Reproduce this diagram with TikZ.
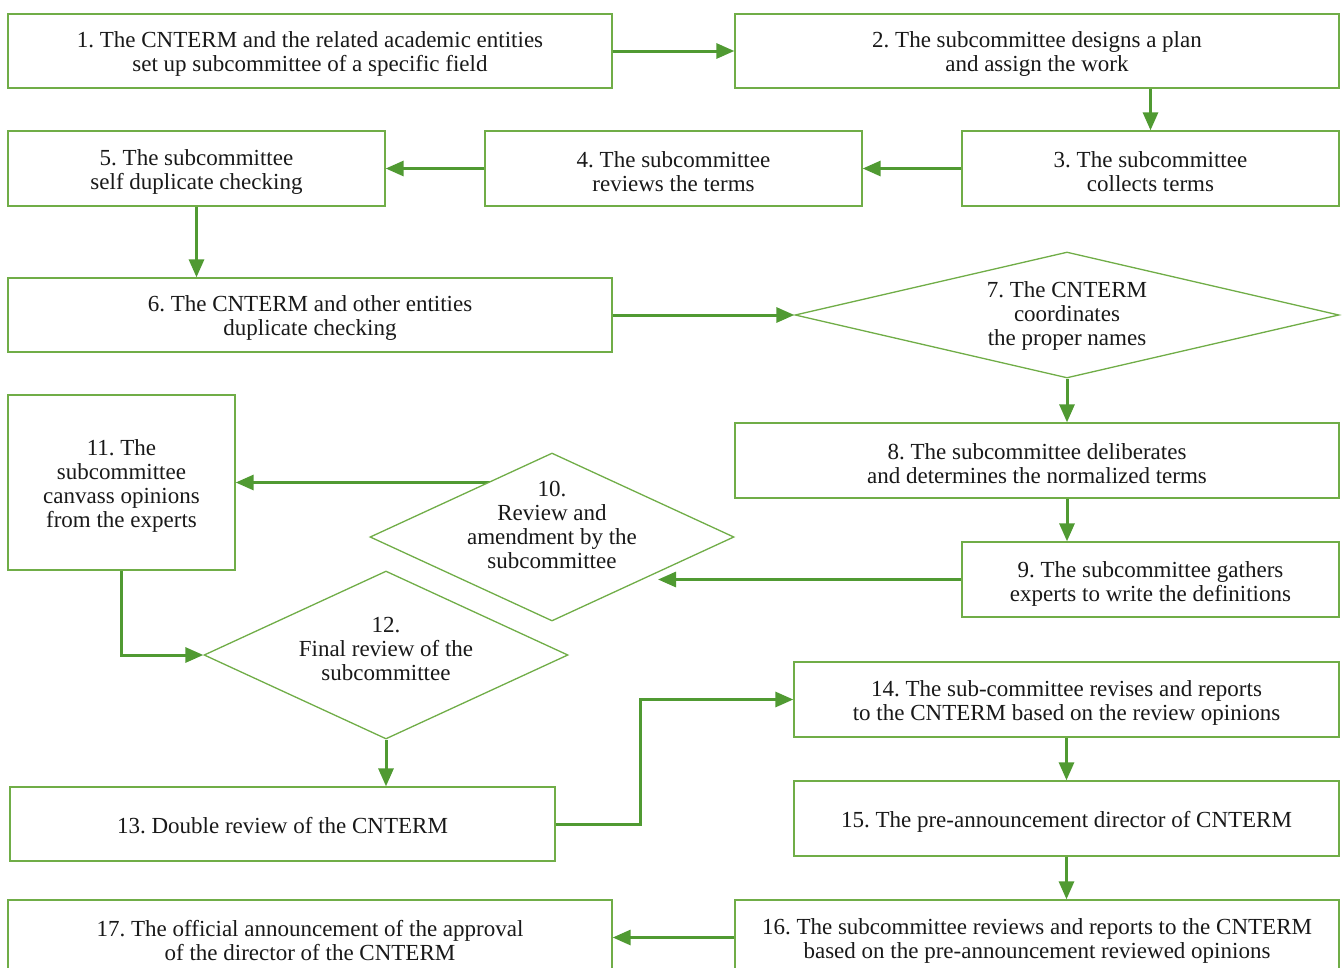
\documentclass[tikz,border=0pt]{standalone}
\usepackage{fontspec}
\setmainfont{Liberation Serif}
\usetikzlibrary{shapes.geometric,arrows.meta,positioning}
\definecolor{boxg}{RGB}{112,173,71}
\definecolor{arrg}{RGB}{80,154,50}
\definecolor{txtc}{RGB}{25,25,25}
\tikzset{
  stepbox/.style={draw=boxg, line width=1.3pt, fill=white, rectangle, inner sep=0pt},
  dia/.style={draw=boxg, line width=1.3pt, fill=white, diamond, inner sep=0pt, shape aspect=2},
  txt/.style={align=center, inner sep=0pt, text=txtc, font=\fontsize{23}{24}\selectfont\frenchspacing},
  arr/.style={draw=arrg, line width=3pt, -{Triangle[length=18pt,width=15pt]}},
}
\begin{document}
\begin{tikzpicture}[x=1pt,y=-1pt]
\useasboundingbox (0,0) rectangle (1342,967);
% boxes
\node[stepbox, minimum width=604, minimum height=74] (n1) at (310,51) {};
\node[stepbox, minimum width=604, minimum height=74] (n2) at (1037,51) {};
\node[stepbox, minimum width=377, minimum height=75] (n3) at (1150.5,168.5) {};
\node[stepbox, minimum width=377, minimum height=75] (n4) at (673.5,168.5) {};
\node[stepbox, minimum width=377, minimum height=75] (n5) at (196.5,168.5) {};
\node[stepbox, minimum width=604, minimum height=74] (n6) at (310,315) {};
\node[dia, minimum width=544, minimum height=126] (n7) at (1067,315) {};
\node[stepbox, minimum width=604, minimum height=75] (n8) at (1037,460.5) {};
\node[stepbox, minimum width=377, minimum height=75] (n9) at (1150.5,579.5) {};
\node[stepbox, minimum width=227, minimum height=175] (n11) at (121.5,482.5) {};
\node[stepbox, minimum width=545, minimum height=74] (n13) at (282.5,824) {};
\node[stepbox, minimum width=545, minimum height=75] (n14) at (1066.5,699.5) {};
\node[stepbox, minimum width=545, minimum height=75] (n15) at (1066.5,818.5) {};
\node[stepbox, minimum width=604, minimum height=75] (n16) at (1037,937.5) {};
\node[stepbox, minimum width=604, minimum height=75] (n17) at (310,937.5) {};
\coordinate (t9end) at (658,579.5);
\coordinate (bend13) at (640,824);
\draw[arr] (n11.east -| 552,0) -- (n11.east);
\node[dia, minimum width=364, minimum height=168] (n10) at (552,537) {};
\node[dia, minimum width=364, minimum height=168] (n12) at (386,655) {};
% texts
\node[txt] (t1) at ([yshift=-3pt]n1.center) {1. The CNTERM and the related academic entities\\set up subcommittee of a specific field};
\node[txt] (t2) at ([yshift=-3pt]n2.center) {2. The subcommittee designs a plan\\and assign the work};
\node[txt] (t3) at ([yshift=-3.5pt]n3.center) {3. The subcommittee\\collects terms};
\node[txt] (t4) at ([yshift=-3.5pt]n4.center) {4. The subcommittee\\reviews the terms};
\node[txt] (t5) at ([yshift=-3.5pt]n5.center) {5. The subcommittee\\self duplicate checking};
\node[txt] (t6) at ([yshift=-3pt]n6.center) {6. The CNTERM and other entities\\duplicate checking};
\node[txt] (t7) at ([yshift=-0.5pt]n7.center) {7. The CNTERM\\coordinates\\the proper names};
\node[txt] (t8) at ([yshift=-3.5pt]n8.center) {8. The subcommittee deliberates\\and determines the normalized terms};
\node[txt] (t9) at ([yshift=-4pt]n9.center) {9. The subcommittee gathers\\experts to write the definitions};
\node[txt] (t10) at ([yshift=12pt]n10.center) {10.\\Review and\\amendment by the\\subcommittee};
\node[txt] (t11) at ([yshift=-3.5pt]n11.center) {11. The\\subcommittee\\canvass opinions\\from the experts};
\node[txt] (t12) at ([yshift=6pt]n12.center) {12.\\Final review of the\\subcommittee};
\node[txt] (t13) at ([yshift=-2pt]n13.center) {13. Double review of the CNTERM};
\node[txt] (t14) at ([yshift=-3pt]n14.center) {14. The sub-committee revises and reports\\to the CNTERM based on the review opinions};
\node[txt] (t15) at ([yshift=-3.5pt]n15.center) {15. The pre-announcement director of CNTERM};
\node[txt] (t16) at ([yshift=-3pt]n16.center) {16. The subcommittee reviews and reports to the CNTERM\\based on the pre-announcement reviewed opinions};
\node[txt] (t17) at ([yshift=-3pt]n17.center) {17. The official announcement of the approval\\of the director of the CNTERM};
% connectors
\draw[arr] (n1.east) -- (n2.west);
\draw[arr] (n3.north |- n2.south) -- (n3.north);
\draw[arr] (n3.west) -- (n4.east);
\draw[arr] (n4.west) -- (n5.east);
\draw[arr] (n5.south) -- (n5.south |- n6.north);
\draw[arr] (n6.east) -- (n7.west);
\draw[arr] (n7.south) -- (n7.south |- n8.north);
\draw[arr] (n7.south |- n8.south) -- (n7.south |- n9.north);
\draw[arr] (n9.west) -- (t9end);
\draw[arr] (n11.south) |- (n12.west);
\draw[arr] (n12.south) -- (n12.south |- n13.north);
\draw[arr] (n13.east) -- (bend13) |- (n14.west);
\draw[arr] (n14.south) -- (n15.north);
\draw[arr] (n15.south) -- (n15.south |- n16.north);
\draw[arr] (n16.west) -- (n17.east);
\end{tikzpicture}
\end{document}
